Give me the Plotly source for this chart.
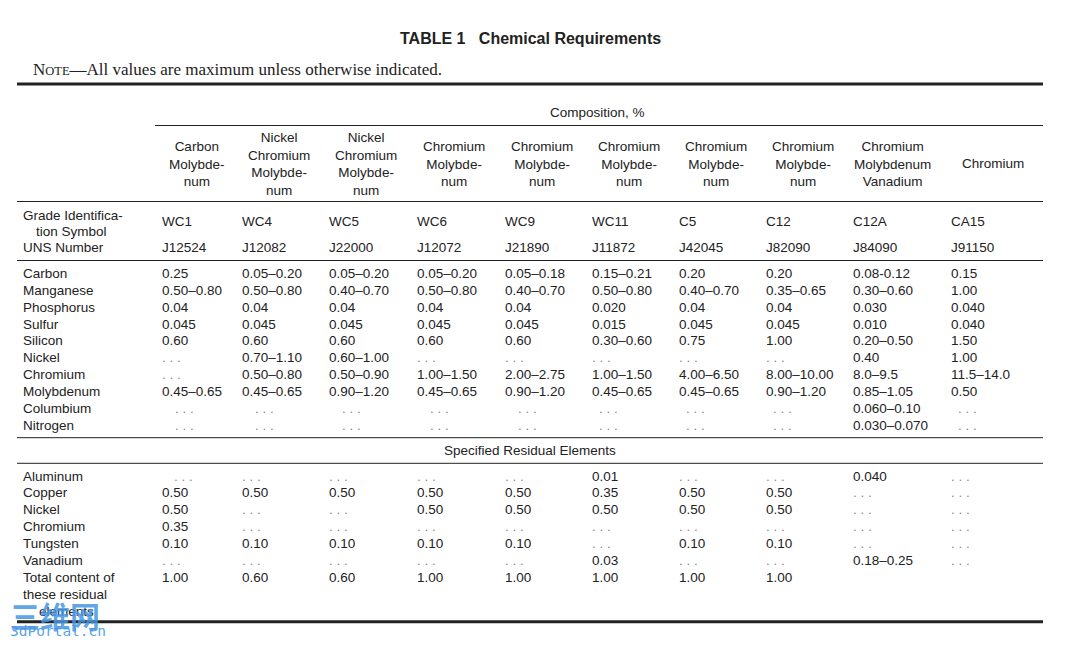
import plotly.graph_objects as go

# ---------------- data ----------------
families = [
    "Carbon<br>Molybde-<br>num",
    "Nickel<br>Chromium<br>Molybde-<br>num",
    "Nickel<br>Chromium<br>Molybde-<br>num",
    "Chromium<br>Molybde-<br>num",
    "Chromium<br>Molybde-<br>num",
    "Chromium<br>Molybde-<br>num",
    "Chromium<br>Molybde-<br>num",
    "Chromium<br>Molybde-<br>num",
    "Chromium<br>Molybdenum<br>Vanadium",
    "Chromium",
]
grade_symbols = ["WC1", "WC4", "WC5", "WC6", "WC9", "WC11", "C5", "C12", "C12A", "CA15"]
uns_numbers = ["J12524", "J12082", "J22000", "J12072", "J21890", "J11872", "J42045", "J82090", "J84090", "J91150"]

comp_labels = ["Carbon", "Manganese", "Phosphorus", "Sulfur", "Silicon", "Nickel",
               "Chromium", "Molybdenum", "Columbium", "Nitrogen"]
carbon = ["0.25", "0.05–0.20", "0.05–0.20", "0.05–0.20", "0.05–0.18", "0.15–0.21", "0.20", "0.20", "0.08-0.12", "0.15"]
manganese = ["0.50–0.80", "0.50–0.80", "0.40–0.70", "0.50–0.80", "0.40–0.70", "0.50–0.80", "0.40–0.70", "0.35–0.65", "0.30–0.60", "1.00"]
phosphorus = ["0.04", "0.04", "0.04", "0.04", "0.04", "0.020", "0.04", "0.04", "0.030", "0.040"]
sulfur = ["0.045", "0.045", "0.045", "0.045", "0.045", "0.015", "0.045", "0.045", "0.010", "0.040"]
silicon = ["0.60", "0.60", "0.60", "0.60", "0.60", "0.30–0.60", "0.75", "1.00", "0.20–0.50", "1.50"]
nickel = ["...", "0.70–1.10", "0.60–1.00", "...", "...", "...", "...", "...", "0.40", "1.00"]
chromium = ["...", "0.50–0.80", "0.50–0.90", "1.00–1.50", "2.00–2.75", "1.00–1.50", "4.00–6.50", "8.00–10.00", "8.0–9.5", "11.5–14.0"]
molybdenum = ["0.45–0.65", "0.45–0.65", "0.90–1.20", "0.45–0.65", "0.90–1.20", "0.45–0.65", "0.45–0.65", "0.90–1.20", "0.85–1.05", "0.50"]
columbium = ["...", "...", "...", "...", "...", "...", "...", "...", "0.060–0.10", "..."]
nitrogen = ["...", "...", "...", "...", "...", "...", "...", "...", "0.030–0.070", "..."]
comp_values = [carbon, manganese, phosphorus, sulfur, silicon, nickel,
               chromium, molybdenum, columbium, nitrogen]

res_labels = ["Aluminum", "Copper", "Nickel", "Chromium", "Tungsten", "Vanadium",
              "Total content of<br>these residual<br>elements"]
aluminum_r = ["...", "...", "...", "...", "...", "0.01", "...", "...", "0.040", "..."]
copper_r = ["0.50", "0.50", "0.50", "0.50", "0.50", "0.35", "0.50", "0.50", "...", "..."]
nickel_r = ["0.50", "...", "...", "0.50", "0.50", "0.50", "0.50", "0.50", "...", "..."]
chromium_r = ["0.35", "...", "...", "...", "...", "...", "...", "...", "...", "..."]
tungsten_r = ["0.10", "0.10", "0.10", "0.10", "0.10", "...", "0.10", "0.10", "...", "..."]
vanadium_r = ["...", "...", "...", "...", "...", "0.03", "...", "...", "0.18–0.25", "..."]
total_r = ["1.00", "0.60", "0.60", "1.00", "1.00", "1.00", "1.00", "1.00", "", ""]
res_values = [aluminum_r, copper_r, nickel_r, chromium_r, tungsten_r, vanadium_r, total_r]

# ---------------- layout constants ----------------
W, H = 1090, 646
PAD = 8  # page body margin around the plot
FONT = "Liberation Sans, Arial, sans-serif"
SERIF = "Liberation Serif, Times New Roman, serif"
INK = "#222222"
DOT = "#8a8a8a"
FS = 13.5
COL_X = [161, 241, 328, 416, 504, 591, 678, 765, 852, 950]
HEAD_X = [197, 279, 366, 454, 542, 629, 716, 803, 892, 993]
LABEL_X = 22
X0, X1 = 17, 1043
STEP = 16.9
COMP_Y0 = 273.3
RES_Y0 = 476.0
# indentation of the ". . ." placeholders in some rows
DOT_INDENT = {("comp", 8): [13] * 5 + [7] * 5, ("comp", 9): [13] * 5 + [7] * 5,
              ("res", 0): [12] + [0] * 9}

fig = go.Figure()
fig.add_trace(go.Scatter(x=[PAD, W], y=[PAD, H], mode="markers",
                         marker=dict(opacity=0), hoverinfo="skip"))

ann = []


def txt(x, y, s, size=FS, color=INK, xanchor="left", align="left", family=FONT, yanchor="middle"):
    ann.append(dict(x=x, y=y, xref="x", yref="y", text=s, showarrow=False,
                    xanchor=xanchor, yanchor=yanchor, align=align, borderpad=0,
                    font=dict(family=family, size=size, color=color)))


def cell(x, y, v, indent=0):
    if v == "...":
        txt(x + indent, y, ". . .", color=DOT)
    elif v:
        txt(x, y, v)


# title and note
txt(530, 38, "<b>TABLE 1   Chemical Requirements</b>", size=16, xanchor="center", align="center")
txt(32, 69, "N<span style='font-size:12.5px'>OTE</span>—All values are maximum unless otherwise indicated.",
    size=17, family=SERIF)

# header
txt(597, 112, "Composition, %", xanchor="center", align="center")
for cx, fam in zip(HEAD_X, families):
    txt(cx, 163.7, fam, xanchor="center", align="center")

txt(LABEL_X, 215, "Grade Identifica-")
txt(35, 231.7, "tion Symbol")
txt(LABEL_X, 247.7, "UNS Number")
for cx, g, u in zip(COL_X, grade_symbols, uns_numbers):
    txt(cx, 221.7, g)
    txt(cx, 247.7, u)

# composition rows
for r, (lab, vals) in enumerate(zip(comp_labels, comp_values)):
    y = COMP_Y0 + r * STEP
    txt(LABEL_X, y, lab)
    ind = DOT_INDENT.get(("comp", r), [0] * 10)
    for c, v in enumerate(vals):
        cell(COL_X[c], y, v, ind[c])

txt(530, 450, "Specified Residual Elements", xanchor="center", align="center")

# residual rows
for r, (lab, vals) in enumerate(zip(res_labels, res_values)):
    y = RES_Y0 + r * STEP
    if "<br>" in lab:
        parts = lab.split("<br>")
        txt(LABEL_X, y, parts[0])
        txt(LABEL_X, y + STEP, parts[1])
        txt(38, y + 2 * STEP, parts[2])
    else:
        txt(LABEL_X, y, lab)
    ind = DOT_INDENT.get(("res", r), [0] * 10)
    for c, v in enumerate(vals):
        cell(COL_X[c], y, v, ind[c])

# watermark
txt(8.5, 615, "<b>三维网</b>", size=30, color="rgba(70,150,225,0.85)",
    family="Noto Sans CJK SC, sans-serif")
txt(8.5, 631, "3dPortal.cn", size=14.5, color="rgba(70,150,225,0.9)",
    family="DejaVu Sans Mono, monospace")

# rules
shapes = []
for y, x0, w in [(84, X0, 3), (125.5, 155, 1), (201.5, X0, 1), (260.5, X0, 1),
                 (437.7, X0, 1), (463.3, X0, 1), (621.7, X0, 3)]:
    shapes.append(dict(type="line", xref="x", yref="y", x0=x0, x1=X1, y0=y, y1=y,
                       line=dict(color=INK, width=w)))

fig.update_layout(
    width=W - PAD, height=H - PAD, autosize=False,
    margin=dict(l=0, r=0, t=0, b=0),
    paper_bgcolor="white", plot_bgcolor="white",
    xaxis=dict(range=[PAD, W], visible=False, fixedrange=True),
    yaxis=dict(range=[H, PAD], visible=False, fixedrange=True),
    showlegend=False, annotations=ann, shapes=shapes,
)
fig.write_html("out.html")
